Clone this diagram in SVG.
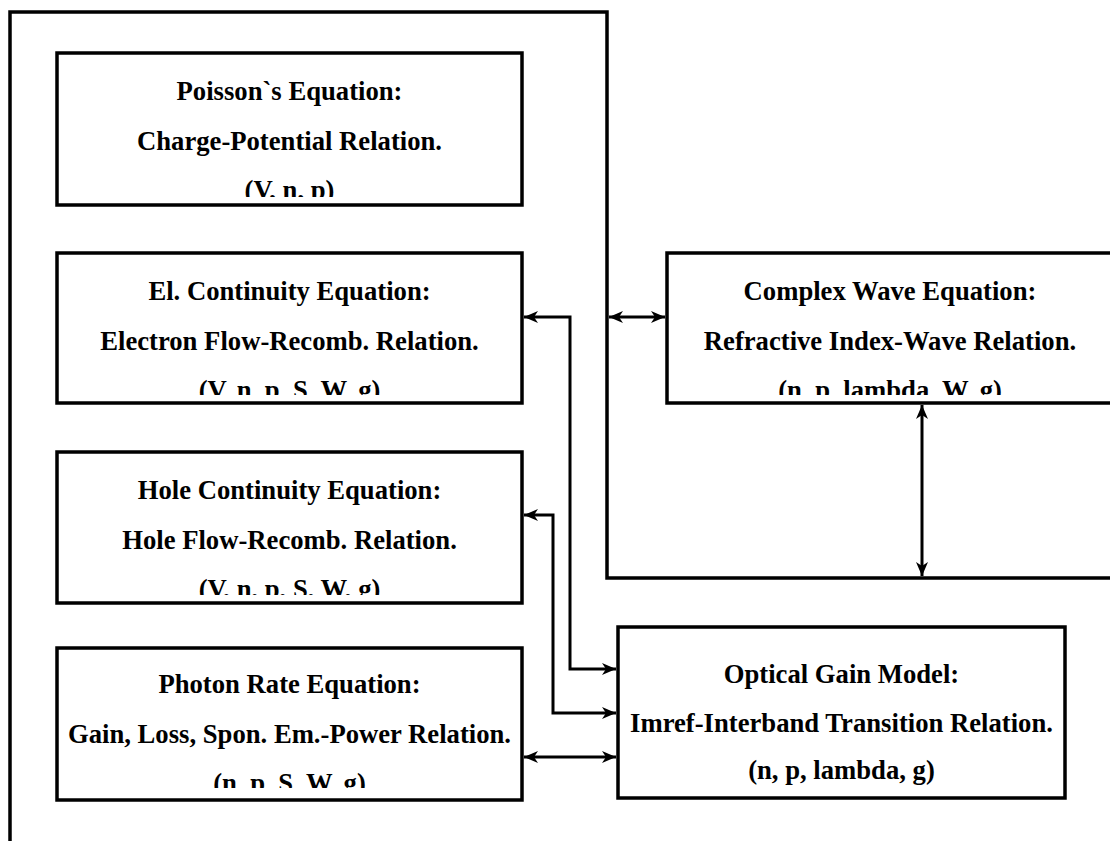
<svg xmlns="http://www.w3.org/2000/svg" width="1110" height="841" viewBox="0 0 1110 841">
<style>
.box{fill:#fff;stroke:#000;stroke-width:3.5}
.t{font-family:"Liberation Serif","Times New Roman",serif;font-weight:bold;font-size:26.67px;fill:#000;text-anchor:middle}
.ln{fill:none;stroke:#000;stroke-width:3.5}
.cn{fill:none;stroke:#000;stroke-width:3;marker-start:url(#ah);marker-end:url(#ah)}
</style>
<defs>
<marker id="ah" viewBox="0 0 14 12" refX="14" refY="6" markerWidth="14" markerHeight="12" markerUnits="userSpaceOnUse" orient="auto-start-reverse">
<path d="M0,0 L14,6 L0,12 L4,6 Z" fill="#000"/>
</marker>
<clipPath id="c1"><rect x="57" y="53" width="465" height="144"/></clipPath>
<clipPath id="c2"><rect x="57" y="253" width="465" height="142"/></clipPath>
<clipPath id="c3"><rect x="57" y="452" width="465" height="143"/></clipPath>
<clipPath id="c4"><rect x="57" y="648" width="465" height="140"/></clipPath>
<clipPath id="c5"><rect x="667" y="253" width="446" height="142"/></clipPath>
</defs>
<rect width="1110" height="841" fill="#fff"/>
<g id="frame">
<path class="ln" d="M10,841 V12 H607 V578 H1112"/>
</g>
<g id="poisson">
<rect class="box" x="57" y="53" width="465" height="152"/>
<g clip-path="url(#c1)">
<text class="t" x="289.5" y="100">Poisson`s Equation:</text>
<text class="t" x="289.5" y="150">Charge-Potential Relation.</text>
<text class="t" x="289.5" y="199">(V, n, p)</text>
</g>
</g>
<g id="el-continuity">
<rect class="box" x="57" y="253" width="465" height="150"/>
<g clip-path="url(#c2)">
<text class="t" x="289.5" y="300">El. Continuity Equation:</text>
<text class="t" x="289.5" y="350">Electron Flow-Recomb. Relation.</text>
<text class="t" x="289.5" y="399">(V, n, p, S, W, g)</text>
</g>
</g>
<g id="hole-continuity">
<rect class="box" x="57" y="452" width="465" height="151"/>
<g clip-path="url(#c3)">
<text class="t" x="289.5" y="499">Hole Continuity Equation:</text>
<text class="t" x="289.5" y="549">Hole Flow-Recomb. Relation.</text>
<text class="t" x="289.5" y="598">(V, n, p, S, W, g)</text>
</g>
</g>
<g id="photon-rate">
<rect class="box" x="57" y="648" width="465" height="152"/>
<g clip-path="url(#c4)">
<text class="t" x="289.5" y="693">Photon Rate Equation:</text>
<text class="t" x="289.5" y="743">Gain, Loss, Spon. Em.-Power Relation.</text>
<text class="t" x="289.5" y="792">(n, p, S, W, g)</text>
</g>
</g>
<g id="complex-wave">
<rect class="box" x="667" y="253" width="446" height="150"/>
<g clip-path="url(#c5)">
<text class="t" x="890" y="300">Complex Wave Equation:</text>
<text class="t" x="890" y="350">Refractive Index-Wave Relation.</text>
<text class="t" x="890" y="399">(n, p, lambda, W, g)</text>
</g>
</g>
<g id="optical-gain">
<rect class="box" x="618" y="627" width="447" height="171"/>
<text class="t" x="841.5" y="683">Optical Gain Model:</text>
<text class="t" x="841.5" y="732">Imref-Interband Transition Relation.</text>
<text class="t" x="841.5" y="779">(n, p, lambda, g)</text>
</g>
<g id="connectors">
<path class="cn" d="M524,317 H570 V669 H616"/>
<path class="cn" d="M524,515 H553 V713 H616"/>
<path class="cn" d="M524,757 H616"/>
<path class="cn" d="M609,317 H665"/>
<path class="cn" d="M922,405 V576"/>
</g>
</svg>
